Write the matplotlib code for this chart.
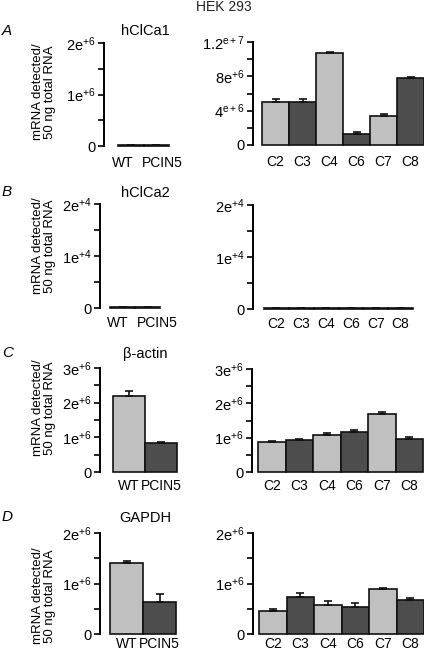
import numpy as np
import matplotlib
matplotlib.use("Agg")
import matplotlib.pyplot as plt

plt.rcParams["font.family"] = ["Liberation Sans", "DejaVu Sans"]
plt.rcParams["mathtext.fontset"] = "custom"
plt.rcParams["mathtext.rm"] = "Liberation Sans"
plt.rcParams["mathtext.it"] = "Liberation Sans:italic"

LIGHT = "#c0c0c0"
DARK = "#4d4d4d"

# cell lines
wt_labels = ["WT", "PCIN5"]
clone_labels = ["C2", "C3", "C4", "C6", "C7", "C8"]

# A: hClCa1
a_wt = [18000, 15000]
a_wt_err = [4000, 4000]
a_cl = [5.05e6, 5.05e6, 10.68e6, 1.28e6, 3.41e6, 7.77e6]
a_cl_err = [0.35e6, 0.35e6, 0.19e6, 0.2e6, 0.16e6, 0.13e6]

# B: hClCa2
b_wt = [150, 130]
b_wt_err = [90, 90]
b_cl = [140, 130, 140, 130, 120, 140]
b_cl_err = [90, 90, 90, 90, 90, 90]

# C: beta-actin
c_wt = [2.18e6, 0.825e6]
c_wt_err = [0.17e6, 0.03e6]
c_cl = [0.87e6, 0.92e6, 1.07e6, 1.16e6, 1.70e6, 0.97e6]
c_cl_err = [0.03e6, 0.04e6, 0.07e6, 0.07e6, 0.06e6, 0.06e6]

# D: GAPDH
d_wt = [1.40e6, 0.63e6]
d_wt_err = [0.05e6, 0.17e6]
d_cl = [0.46e6, 0.73e6, 0.58e6, 0.54e6, 0.885e6, 0.68e6]
d_cl_err = [0.03e6, 0.09e6, 0.07e6, 0.07e6, 0.02e6, 0.03e6]

W, H = 424, 658
fig = plt.figure(figsize=(W / 100, H / 100), dpi=100)


def add_panel(spine_x, bar_start, bar_end, y_top, y_bot, labels, vals, errs, colors,
              ymax, ticks, ticklabels, minor, pad, label_shift=None):
    n = len(vals)
    bw = (bar_end - bar_start) / n
    gap = (bar_start - spine_x) / bw
    ax = fig.add_axes([spine_x / W, 1 - y_bot / H, (bar_end - spine_x) / W, (y_bot - y_top) / H])
    x = np.arange(n)
    ax.bar(x, vals, width=1.0, color=colors, edgecolor="#111111", linewidth=1.2,
           yerr=[np.zeros(n), errs], capsize=3,
           error_kw=dict(ecolor="#111111", elinewidth=1.2, capthick=1.2), zorder=2, clip_on=False)
    ax.set_xlim(-0.5 - gap, n - 0.5)
    ax.set_ylim(0, ymax)
    ax.set_yticks(ticks)
    ax.set_yticklabels(ticklabels)
    ax.set_yticks(minor, minor=True)
    if label_shift is None:
        label_shift = np.zeros(n)
    ax.set_xticks(x + np.asarray(label_shift))
    ax.set_xticklabels(labels)
    for s in ["top", "right", "bottom"]:
        ax.spines[s].set_visible(False)
    ax.spines["left"].set_linewidth(1.4)
    ax.tick_params(axis="y", which="both", direction="out", length=4.5, width=1.2, labelsize=10.5, pad=1.5)
    ax.tick_params(axis="x", length=0, labelsize=10, pad=pad)
    ax.patch.set_alpha(0)
    return ax


alt = [LIGHT, DARK] * 3
two = [LIGHT, DARK]

e6 = lambda m: m + r"$\mathrm{e}^{+6}$"
e4 = lambda m: m + r"$\mathrm{e}^{+4}$"

# row A
add_panel(104, 118, 169, 43, 146, wt_labels, a_wt, a_wt_err, two, 2e6,
          [0, 1e6, 2e6], ["0", e6("1"), e6("2")], [0.5e6, 1.5e6], 7, [-0.32, 0.24])
add_panel(253, 262, 424, 42, 145, clone_labels, a_cl, a_cl_err, alt, 12e6,
          [0, 4e6, 8e6, 12e6], ["0", r"4$^{\mathrm{e+6}}$", e6("8"), r"1.2$^{\mathrm{e+7}}$"],
          [2e6, 6e6, 10e6], 7)
# row B
add_panel(100, 110, 160, 204, 308, wt_labels, b_wt, b_wt_err, two, 2e4,
          [0, 1e4, 2e4], ["0", e4("1"), e4("2")], [0.5e4, 1.5e4], 6, [-0.18, 0.38])
add_panel(253, 264, 413, 205, 309, clone_labels, b_cl, b_cl_err, alt, 2e4,
          [0, 1e4, 2e4], ["0", e4("1"), e4("2")], [0.5e4, 1.5e4], 6)
# row C
add_panel(100, 113, 177, 368, 472, wt_labels, c_wt, c_wt_err, two, 3e6,
          [0, 1e6, 2e6, 3e6], ["0", e6("1"), e6("2"), e6("3")], [0.5e6, 1.5e6, 2.5e6], 5)
add_panel(252, 258, 423, 369, 472, clone_labels, c_cl, c_cl_err, alt, 3e6,
          [0, 1e6, 2e6, 3e6], ["0", e6("1"), e6("2"), e6("3")], [0.5e6, 1.5e6, 2.5e6], 5)
# row D
add_panel(100, 110, 176, 533, 634, wt_labels, d_wt, d_wt_err, two, 2e6,
          [0, 1e6, 2e6], ["0", e6("1"), e6("2")], [0.5e6, 1.5e6], 2)
add_panel(253, 259, 424, 533, 634, clone_labels, d_cl, d_cl_err, alt, 2e6,
          [0, 1e6, 2e6], ["0", e6("1"), e6("2")], [0.5e6, 1.5e6], 2)

# text
fig.text(224 / W, 1 - 7 / H, "HEK 293", ha="center", va="center", fontsize=10, color="#222222")
letters = ["A", "B", "C", "D"]
letter_y = [31, 192, 353, 517]
titles = ["hClCa1", "hClCa2", "\u03b2-actin", "GAPDH"]
title_y = [31, 193, 354, 518]
ylabel_y = [92, 246, 408, 596]
for L, ly, t, ty, yy in zip(letters, letter_y, titles, title_y, ylabel_y):
    fig.text(2 / W, 1 - ly / H, L, ha="left", va="center", fontsize=11, style="italic")
    fig.text(145 / W, 1 - ty / H, t, ha="center", va="center", fontsize=10.5)
    fig.text(44 / W, 1 - yy / H, "mRNA detected/\n50 ng total RNA", ha="center", va="center",
             rotation=90, fontsize=9.5, linespacing=1.05)

fig.savefig("out.png", dpi=100)
